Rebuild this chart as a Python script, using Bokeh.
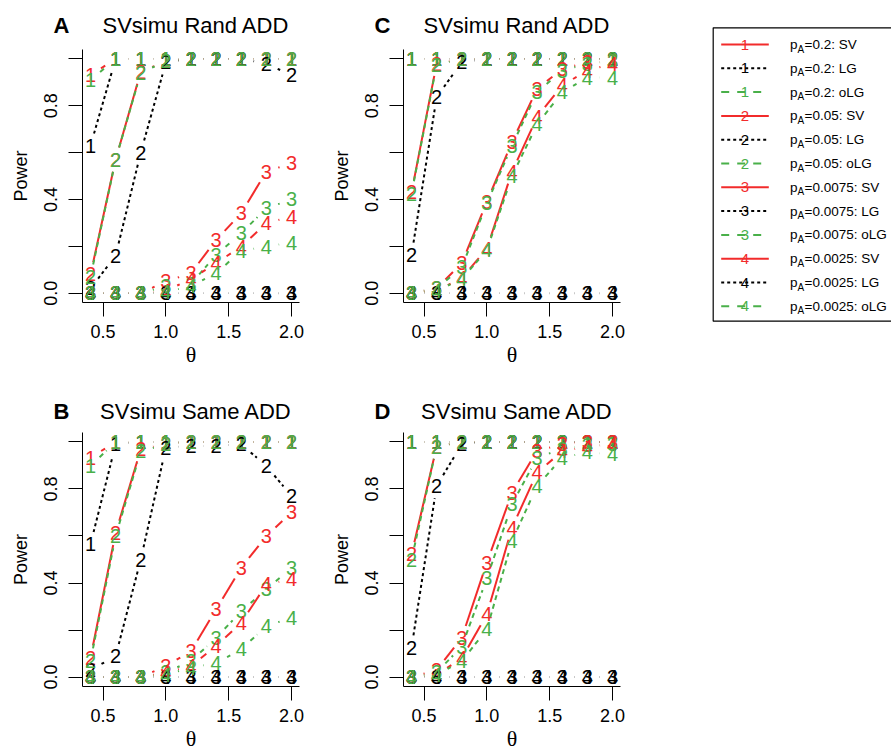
import math
from bokeh.plotting import figure
from bokeh.models import Range1d, FixedTicker, Label
from bokeh.layouts import column, row
from bokeh.core.properties import value
from bokeh.embed import file_html
from bokeh.resources import INLINE

# ---------------- data ----------------
theta = [0.4, 0.6, 0.8, 1.0, 1.2, 1.4, 1.6, 1.8, 2.0]
pA_labels = ["0.2", "0.05", "0.0075", "0.0025"]
methods = ["SV", "LG", "oLG"]
x_ticks = [0.5, 1.0, 1.5, 2.0]
x_tick_labels = ["0.5", "1.0", "1.5", "2.0"]
y_ticks = [0.0, 0.2, 0.4, 0.6, 0.8, 1.0]
y_tick_labels = ["0.0", "", "0.4", "", "0.8", ""]

# Panel A : SVsimu Rand ADD (left)
A_SV = [[0.93, 1, 1, 1, 1, 1, 1, 1, 1],
        [0.08, 0.57, 0.945, 0.99, 1, 1, 1, 1, 1],
        [0, 0, 0, 0.05, 0.085, 0.227, 0.341, 0.519, 0.554],
        [0, 0, 0, 0.01, 0.06, 0.128, 0.199, 0.298, 0.327]]
A_LG = [[0.63, 1, 1, 1, 1, 1, 1, 1, 1],
        [0.02, 0.16, 0.60, 0.985, 1, 1, 1, 0.98, 0.93],
        [0, 0, 0, 0, 0, 0, 0, 0, 0],
        [0, 0, 0, 0, 0, 0, 0, 0, 0]]
A_oLG = [[0.91, 1, 1, 1, 1, 1, 1, 1, 1],
         [0.07, 0.57, 0.94, 0.99, 1, 1, 1, 1, 1],
         [0, 0, 0, 0.03, 0.04, 0.163, 0.256, 0.362, 0.40],
         [0, 0, 0, 0.005, 0.03, 0.085, 0.18, 0.199, 0.216]]

# Panel C : SVsimu Rand ADD (right)
C_SV = [[1, 1, 1, 1, 1, 1, 1, 1, 1],
        [0.43, 0.98, 1, 1, 1, 1, 1, 1, 1],
        [0, 0.02, 0.128, 0.39, 0.645, 0.872, 0.957, 0.986, 0.99],
        [0, 0.01, 0.064, 0.19, 0.518, 0.752, 0.887, 0.95, 0.98]]
C_LG = [[1, 1, 1, 1, 1, 1, 1, 1, 1],
        [0.163, 0.837, 0.986, 1, 1, 1, 1, 1, 1],
        [0, 0, 0, 0, 0, 0, 0, 0, 0],
        [0, 0, 0, 0, 0, 0, 0, 0, 0]]
C_oLG = [[1, 1, 1, 1, 1, 1, 1, 1, 1],
         [0.425, 0.975, 1, 1, 1, 1, 1, 1, 1],
         [0, 0.02, 0.11, 0.383, 0.63, 0.858, 0.95, 0.98, 0.99],
         [0, 0.01, 0.06, 0.184, 0.50, 0.72, 0.858, 0.92, 0.92]]

# Panel B : SVsimu Same ADD (left)
B_SV = [[0.933, 1, 1, 1, 1, 1, 1, 1, 1],
        [0.082, 0.614, 0.969, 0.99, 1, 1, 1, 1, 1],
        [0, 0, 0, 0.047, 0.11, 0.288, 0.465, 0.60, 0.70],
        [0, 0, 0, 0.02, 0.047, 0.132, 0.231, 0.394, 0.416]]
B_LG = [[0.565, 0.99, 1, 1, 1, 1, 1, 1, 1],
        [0.03, 0.089, 0.50, 0.976, 0.983, 0.983, 0.99, 0.898, 0.77],
        [0, 0, 0, 0, 0, 0, 0, 0, 0],
        [0, 0, 0, 0, 0, 0, 0, 0, 0]]
B_oLG = [[0.898, 1, 1, 1, 1, 1, 1, 1, 1],
         [0.07, 0.60, 0.96, 0.99, 1, 1, 1, 1, 1],
         [0, 0, 0, 0.02, 0.068, 0.167, 0.28, 0.373, 0.465],
         [0, 0, 0, 0.01, 0.04, 0.06, 0.118, 0.217, 0.252]]

# Panel D : SVsimu Same ADD (right)
D_SV = [[1, 1, 1, 1, 1, 1, 1, 1, 1],
        [0.522, 0.98, 1, 1, 1, 1, 1, 1, 1],
        [0, 0.03, 0.167, 0.487, 0.784, 0.962, 0.99, 1, 1],
        [0, 0.01, 0.08, 0.267, 0.635, 0.87, 0.96, 0.98, 0.99]]
D_LG = [[1, 1, 1, 1, 1, 1, 1, 1, 1],
        [0.125, 0.813, 0.99, 1, 1, 1, 1, 1, 1],
        [0, 0, 0, 0, 0, 0, 0, 0, 0],
        [0, 0, 0, 0, 0, 0, 0, 0, 0]]
D_oLG = [[1, 1, 1, 1, 1, 1, 1, 1, 1],
         [0.50, 0.98, 1, 1, 1, 1, 1, 1, 1],
         [0, 0.02, 0.13, 0.42, 0.735, 0.933, 0.97, 0.985, 0.99],
         [0, 0.01, 0.068, 0.203, 0.579, 0.813, 0.933, 0.955, 0.948]]

# ---------------- styles ----------------
RED = "#F22B2B"
GREEN = "#49B049"
BLACK = "#000000"
STYLE = {"SV": (RED, "solid"), "LG": (BLACK, "3 3"), "oLG": (GREEN, "5 4")}
LEGEND_DASH = {"SV": "solid", "LG": "3 3", "oLG": "8 8"}
SANS = "Liberation Sans"
SERIF = "Liberation Serif"

XR = (0.336, 2.064)     # R plot region (4% extension of 0.4..2.0)
YR = (-0.04, 1.04)      # R plot region (4% extension of 0..1)
REG_W = 217             # plot-region width in px
GAP = 12.5              # px gap between line ends and plotted number (type="b")


def gapped(xs, ys, sx, sy, g):
    x0, y0, x1, y1 = [], [], [], []
    for i in range(len(xs) - 1):
        dx = xs[i + 1] - xs[i]
        dy = ys[i + 1] - ys[i]
        L = math.hypot(dx * sx, dy * sy)
        if L > 2 * g:
            t = g / L
            x0.append(xs[i] + t * dx)
            y0.append(ys[i] + t * dy)
            x1.append(xs[i + 1] - t * dx)
            y1.append(ys[i + 1] - t * dy)
    return x0, y0, x1, y1


def panel(letter, title, SV, LG, oLG, top_row):
    W, ML, MR = 321, 82, 22
    if top_row:
        H, MT, RH, title_dy = 390, 49, 253, 23.6
    else:
        H, MT, RH, title_dy = 357, 42, 254, 21.2
    MB = H - MT - RH
    sx = REG_W / (XR[1] - XR[0])
    sy = RH / (YR[1] - YR[0])
    p = figure(width=W, height=H,
               x_range=Range1d(XR[0] - ML / sx, XR[1] + MR / sx),
               y_range=Range1d(YR[0] - MB / sy, YR[1] + MT / sy),
               output_backend="svg", toolbar_location=None, min_border=0)
    p.outline_line_color = None
    p.grid.visible = False
    p.background_fill_color = "white"
    p.border_fill_color = "white"

    data = {"SV": SV, "LG": LG, "oLG": oLG}
    for k in range(4):
        for m in methods:
            color, dash = STYLE[m]
            ys = data[m][k]
            x0, y0, x1, y1 = gapped(theta, ys, sx, sy, GAP)
            p.segment(x0=x0, y0=y0, x1=x1, y1=y1, line_color=color,
                      line_width=2, line_dash=dash)
            p.text(x=theta, y=ys, text=[str(k + 1)] * len(theta),
                   text_color=color, text_font=value(SANS),
                   text_font_size="20px", text_align="center",
                   text_baseline="middle")

    # axes drawn at the edges of the R plot region (bty="l")
    xa, ya = p.xaxis[0], p.yaxis[0]
    xa.fixed_location = YR[0]
    xa.bounds = XR
    ya.fixed_location = XR[0]
    ya.bounds = YR
    for ax in (xa, ya):
        ax.axis_line_color = "black"
        ax.axis_line_width = 1
        ax.major_tick_line_color = "black"
        ax.major_tick_line_width = 1
        ax.major_tick_in = 0
        ax.major_tick_out = 14
        ax.minor_tick_line_color = None
        ax.major_label_text_font = SANS
        ax.major_label_text_font_size = "18px"
        ax.major_label_text_color = "black"
    xa.ticker = FixedTicker(ticks=x_ticks)
    xa.major_label_overrides = dict(zip(x_ticks, x_tick_labels))
    xa.major_label_standoff = 8
    ya.ticker = FixedTicker(ticks=y_ticks)
    ya.major_label_overrides = dict(zip(y_ticks, y_tick_labels))
    ya.major_label_orientation = "vertical"
    ya.major_label_standoff = 11

    # titles / axis labels
    ty = YR[1] + title_dy / sy
    p.add_layout(Label(x=XR[0] - 21 / sx, y=ty, text=letter, text_font=SANS,
                       text_font_style="bold", text_font_size="22px",
                       text_color="black",
                       text_align="center", text_baseline="middle"))
    p.add_layout(Label(x=XR[0] + 113.5 / sx, y=ty, text=title, text_font=SANS,
                       text_font_size="22px", text_align="center",
                       text_color="black", text_baseline="middle"))
    p.add_layout(Label(x=XR[0] - 62 / sx, y=(YR[0] + YR[1]) / 2, text="Power",
                       angle=math.pi / 2, text_font=SANS, text_font_size="18px",
                       text_color="black",
                       text_align="center", text_baseline="middle"))
    p.add_layout(Label(x=(XR[0] + XR[1]) / 2, y=YR[0] - 51.5 / sy, text="θ",
                       text_font=SERIF, text_font_size="22px",
                       text_color="black",
                       text_align="center", text_baseline="middle"))
    return p


pA = panel("A", "SVsimu Rand ADD", A_SV, A_LG, A_oLG, True)
pC = panel("C", "SVsimu Rand ADD", C_SV, C_LG, C_oLG, True)
pB = panel("B", "SVsimu Same ADD", B_SV, B_LG, B_oLG, False)
pD = panel("D", "SVsimu Same ADD", D_SV, D_LG, D_oLG, False)

# ---------------- legend panel (page-pixel coordinates) ----------------
leg = figure(width=249, height=390, x_range=Range1d(642, 891),
             y_range=Range1d(390, 0), output_backend="svg",
             toolbar_location=None, x_axis_type=None, y_axis_type=None,
             min_border=0)
leg.outline_line_color = None
leg.grid.visible = False
leg.quad(left=[712.7], right=[905], top=[27.3], bottom=[320.7],
         fill_color=None, line_color="black", line_width=1.2)

row0, dy = 44.0, 23.8
entries = [(k, m) for k in range(4) for m in methods]
for i, (k, m) in enumerate(entries):
    yy = row0 + i * dy
    color = STYLE[m][0]
    leg.segment(x0=[720.7], y0=[yy], x1=[768.3], y1=[yy], line_color=color,
                line_width=2, line_dash=LEGEND_DASH[m])
    leg.text(x=[744.5], y=[yy], text=[str(k + 1)], text_color=color,
             text_font=value(SANS), text_font_size="15px",
             text_align="center", text_baseline="middle")
    leg.text(x=[789.5], y=[yy], text=["p"], text_font=value(SANS),
             text_font_size="13.5px", text_align="left",
             text_baseline="middle", text_color="black")
    leg.text(x=[797], y=[yy + 4.5], text=["A"], text_font=value(SANS),
             text_font_size="10px", text_align="left",
             text_baseline="middle", text_color="black")
    leg.text(x=[804], y=[yy], text=["=" + pA_labels[k] + ": " + m],
             text_font=value(SANS), text_font_size="13.5px",
             text_align="left", text_baseline="middle", text_color="black")

layout = column(row(pA, pC, leg), row(pB, pD))
open("out.html", "w").write(file_html(layout, INLINE))
